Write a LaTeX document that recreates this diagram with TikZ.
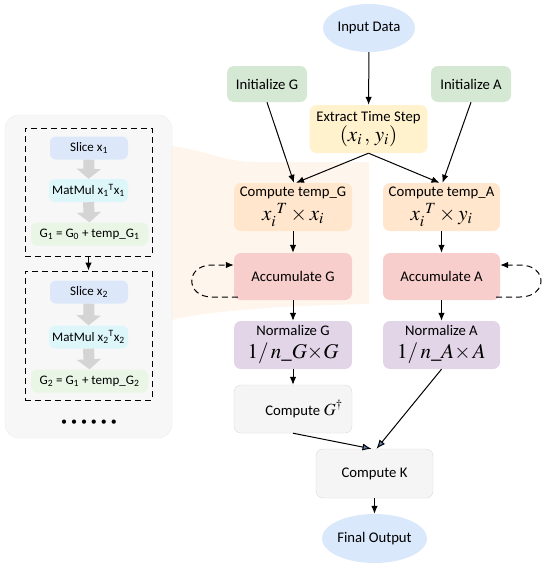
\documentclass[tikz,border=0pt]{standalone}
\usepackage{mathptmx}
\usepackage[no-math]{fontspec}
\setmainfont{Carlito}
\usetikzlibrary{arrows.meta,shapes.geometric,calc}
\definecolor{peach}{HTML}{FEF5EC}
\definecolor{panelfill}{HTML}{F7F7F7}
\definecolor{panelline}{HTML}{EBEBEB}
\definecolor{ioblue}{HTML}{DAE8FC}
\definecolor{initgreen}{HTML}{D5E8D4}
\definecolor{extyellow}{HTML}{FFF2CC}
\definecolor{tmporange}{HTML}{FFE6CC}
\definecolor{accred}{HTML}{F8CECC}
\definecolor{normpurple}{HTML}{E1D5E7}
\definecolor{grayfill}{HTML}{F5F5F5}
\definecolor{grayline}{HTML}{DADADA}
\definecolor{sliceblue}{HTML}{DCE8FA}
\definecolor{mmcyan}{HTML}{DDF6FA}
\definecolor{sumgreen}{HTML}{E9F6E6}
\definecolor{blockgray}{HTML}{D4D4D4}
\definecolor{headblue}{HTML}{5E80B8}
\newcommand{\mth}[1]{{\fontsize{21}{22}\selectfont$#1$}}
\begin{document}
\begin{tikzpicture}[x=1pt,y=-1pt,
  box/.style={rounded corners=7pt, minimum width=118pt, minimum height=48pt, inner sep=1pt, align=center, font=\fontsize{14.7}{16}\selectfont},
  oval/.style={ellipse, fill=ioblue, inner sep=0pt, font=\fontsize{14.7}{16}\selectfont},
  arr/.style={-{Latex[length=8pt,width=6.5pt]}, line width=1pt},
  blarr/.style={-{Latex[length=9pt,width=7pt,fill=headblue]}, line width=1pt},
  loop/.style={arr, dash pattern=on 6pt off 4pt},
  sbox/.style={rounded corners=6pt, minimum height=23pt, inner sep=1pt, font=\fontsize{13}{15}\selectfont},
  garr/.style={line width=11pt, draw=blockgray, -{Triangle[width=24pt,length=10pt]}},
  dbox/.style={draw, line width=1pt, dash pattern=on 6pt off 4pt, minimum width=127pt}
]
\useasboundingbox (0,0) rectangle (550,568);

% magnifying wedge
\fill[peach] (172,146) .. controls (205,150) and (225,162) .. (255,162) -- (369,162) -- (369,304) .. controls (300,305) and (210,310) .. (172,320) -- cycle;

% left panel
\node[draw=panelline, fill=panelfill, rounded corners=14pt, minimum width=167pt, minimum height=323pt] (panel) at (88.5,276.5) {};
\node[dbox, minimum height=128pt] (b1) at (88.5,192) {};
\node[dbox, minimum height=129pt] (b2) at (88.5,335.5) {};
\draw[arr] (b1.south) -- (b2.north);

\node[sbox, fill=sliceblue, minimum width=78pt] (s1) at (89,148) {Slice x\textsubscript{1}};
\node[sbox, fill=mmcyan, minimum width=79pt] (m1) at (88.5,190.5) {MatMul x\textsubscript{1}\textsuperscript{T}x\textsubscript{1}};
\node[sbox, fill=sumgreen, minimum width=117pt] (g1) at (89.5,234) {G\textsubscript{1} = G\textsubscript{0} + temp\_G\textsubscript{1}};
\draw[garr] (s1.south) -- (m1.north);
\draw[garr] (m1.south) -- (g1.north);

\node[sbox, fill=sliceblue, minimum width=78pt] (s2) at (89,292) {Slice x\textsubscript{2}};
\node[sbox, fill=mmcyan, minimum width=79pt] (m2) at (88.5,337) {MatMul x\textsubscript{2}\textsuperscript{T}x\textsubscript{2}};
\node[sbox, fill=sumgreen, minimum width=117pt] (g2) at (89.5,381) {G\textsubscript{2} = G\textsubscript{1} + temp\_G\textsubscript{2}};
\draw[garr] (s2.south) -- (m2.north);
\draw[garr] (m2.south) -- (g2.north);

\node[font=\fontsize{12}{14}\selectfont] (dots) at (89,423) {\textbullet\hspace{4pt}\textbullet\hspace{4pt}\textbullet\hspace{4pt}\textbullet\hspace{4pt}\textbullet\hspace{4pt}\textbullet};

% main flow
\node[oval, minimum width=92pt, minimum height=48pt] (in) at (369,28) {Input Data};
\node[box, fill=initgreen, minimum width=80pt, minimum height=36pt] (initG) at (267,84) {Initialize G};
\node[box, fill=initgreen, minimum width=80pt, minimum height=36pt] (initA) at (471,84) {Initialize A};
\node[box, fill=extyellow, minimum height=48pt] (ext) at (368.5,129) {Extract Time Step\\[1pt]\mth{(x_i\,,\,y_i)}};
\node[box, fill=tmporange] (tG) at (293,207) {Compute temp\_G\\[3pt]\mth{x_i^{\;\,T}\times x_i}};
\node[box, fill=tmporange, minimum width=117pt] (tA) at (441.5,207) {Compute temp\_A\\[3pt]\mth{x_i^{\;\,T}\times y_i}};
\node[box, fill=accred, minimum height=47pt] (accG) at (293,276.5) {Accumulate G};
\node[box, fill=accred, minimum height=47pt, minimum width=117pt] (accA) at (441.5,276.5) {Accumulate A};
\node[box, fill=normpurple] (nG) at (293,345) {Normalize G\\[7pt]\mth{1/\,n\_G{\times}G}};
\node[box, fill=normpurple, minimum width=117pt] (nA) at (441.5,345) {Normalize A\\[7pt]\mth{1/\,n\_A{\times}\,A}};
\node[box, fill=grayfill, draw=grayline] (cG) at (293,409) {\hspace{22pt}Compute {\fontsize{17}{19}\selectfont$G^{\dagger}$}};
\node[box, fill=grayfill, draw=grayline, minimum width=117pt, minimum height=49pt] (K) at (374.5,473.5) {Compute K};
\node[oval, minimum width=101pt, minimum height=49pt] (out) at (374.5,538.5) {Final Output};

\draw[arr] (in) -- (ext);
\draw[arr] (initG.south) -- ([xshift=1pt]tG.north);
\draw[arr] (ext.south) -- ([xshift=3pt]tG.north);
\draw[arr] (initA.south) -- ([xshift=1pt]tA.north);
\draw[arr] (ext.south) -- ([xshift=-2pt]tA.north);
\draw[arr] (tG) -- (accG);
\draw[arr] (tA) -- (accA);
\draw[arr] (accG) -- (nG);
\draw[arr] (accA) -- (nA);
\draw[arr] (nG) -- (cG);
\draw[blarr] (cG.south) -- ([xshift=-3pt]K.north);
\draw[blarr] (nA.south) -- ([xshift=2pt]K.north);
\draw[arr] (K) -- (out);

\draw[loop] ([xshift=4pt,yshift=3pt]accG.south west) -- (212,297) .. controls (185,297) and (185,265) .. (212,265) -- ([yshift=11.5pt]accG.west);
\draw[loop] ([xshift=-4pt,yshift=3pt]accA.south east) -- (520,297) .. controls (548,297) and (548,265) .. (520,265) -- ([yshift=11.5pt]accA.east);
\end{tikzpicture}
\end{document}
